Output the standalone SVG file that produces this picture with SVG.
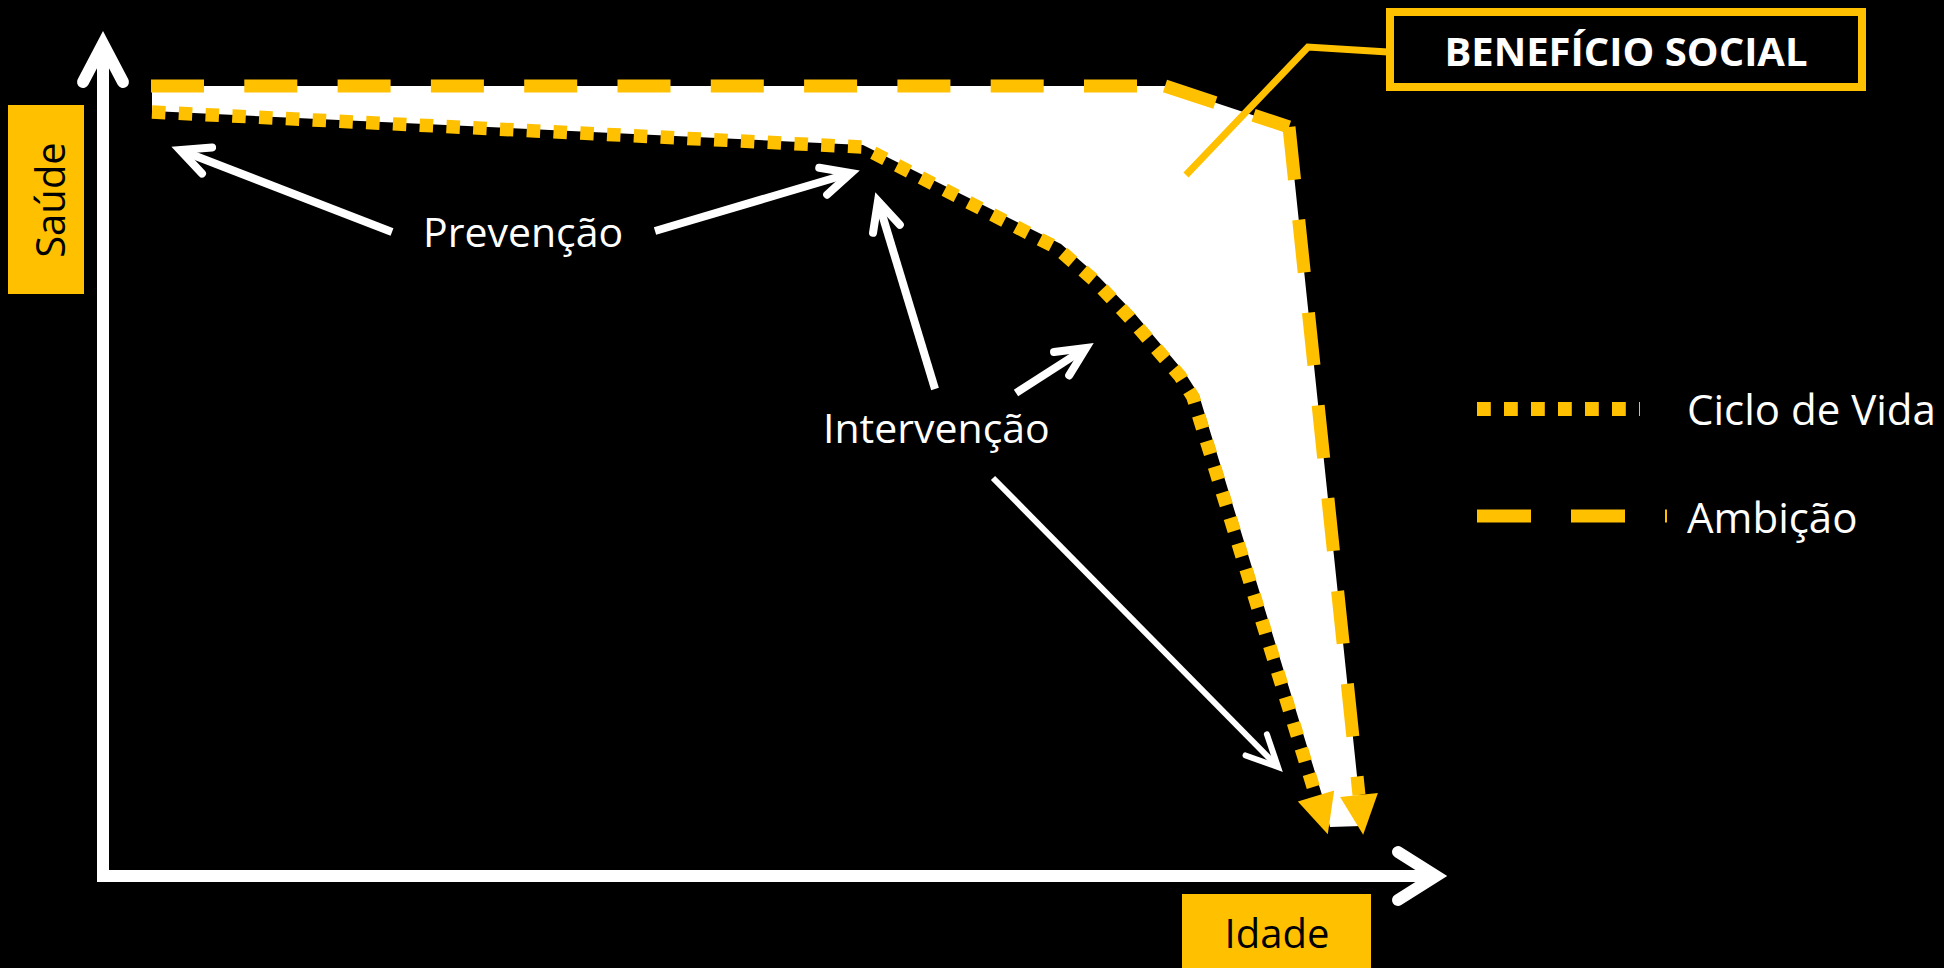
<svg xmlns="http://www.w3.org/2000/svg" width="1944" height="968" viewBox="0 0 1944 968">
<defs>
<style>
.lbl{font-family:"Open Sans","Liberation Sans",sans-serif;font-size:41px;fill:#fff}
.leg{font-family:"Open Sans","Liberation Sans",sans-serif;font-size:42px;fill:#fff}
.axlbl{font-family:"Open Sans","Liberation Sans",sans-serif;font-size:40px;fill:#000}
.box{fill:#FFC000}
.ann{stroke:#fff;stroke-width:8;fill:none}
.annThin{stroke:#fff;stroke-width:6;fill:none}
.dot{stroke:#FFC000;stroke-width:13.5;stroke-dasharray:13.5 13.3;fill:none}
.dash{stroke:#FFC000;stroke-width:13;stroke-dasharray:53 40.3;fill:none}
.axis{stroke:#fff;stroke-width:12;fill:none;stroke-linejoin:miter}
.axhead{stroke:#fff;stroke-width:12;fill:none;stroke-linecap:round;stroke-linejoin:miter}
</style>
<marker id="chev" markerUnits="userSpaceOnUse" orient="auto" overflow="visible" refX="0" refY="0" markerWidth="1" markerHeight="1">
<path d="M-29,-14 L0,0 L-29,14" fill="none" stroke="#fff" stroke-width="8" stroke-linecap="round" stroke-linejoin="miter"/>
</marker>
<marker id="chevThin" markerUnits="userSpaceOnUse" orient="auto" overflow="visible" refX="0" refY="0" markerWidth="1" markerHeight="1">
<path d="M-31,-15 L0,0 L-31,15" fill="none" stroke="#fff" stroke-width="6" stroke-linecap="round" stroke-linejoin="miter"/>
</marker>
<marker id="tri" markerUnits="userSpaceOnUse" orient="auto" overflow="visible" refX="0" refY="0" markerWidth="1" markerHeight="1">
<path d="M0,-19 L40,0 L0,19 Z" fill="#FFC000"/>
</marker>
</defs>
<rect x="0" y="0" width="1944" height="968" fill="#000"/>

<g id="benefit-area">
<polygon points="152,86 1165,86 1289,127 1359,795 1361,826 1330,827 1322,795 1206,418 1199,395 1185,373 1135,314 1099,277 1061,244 863,145 152,111" fill="#fff"/>
</g>

<g id="ciclo-de-vida-curve">
<path class="dot" d="M152,112 L862,147 L1057,248 L1095,281 L1130,318 L1180,376 L1193,397 L1200,420 L1316,796" marker-end="url(#tri)"/>
</g>

<g id="ambicao-curve">
<path class="dash" d="M151,86 L1165,86"/>
<path class="dash" d="M1165,86 L1289,127"/>
<path class="dash" d="M1289,127 L1359,795" marker-end="url(#tri)"/>
</g>

<g id="axes">
<polyline class="axis" points="103,44 103,876 1436,876"/>
<polyline class="axhead" points="83,82 103,44 123,82"/>
<polyline class="axhead" points="1398,852 1436,876 1398,900"/>
</g>

<g id="saude-label">
<rect class="box" x="8" y="105" width="76" height="189"/>
<text class="axlbl" transform="translate(65,200) rotate(-90)" text-anchor="middle">Saúde</text>
</g>

<g id="idade-label">
<rect class="box" x="1182" y="894" width="189" height="74"/>
<text class="axlbl" x="1277" y="948" text-anchor="middle">Idade</text>
</g>

<g id="beneficio-social">
<rect x="1390" y="12" width="472" height="75" fill="#000" stroke="#FFC000" stroke-width="8"/>
<text x="1626" y="66" text-anchor="middle" style="font-family:'Open Sans','Liberation Sans',sans-serif;font-size:40px;font-weight:bold;fill:#fff">BENEFÍCIO SOCIAL</text>
</g>

<g id="prevencao-label">
<text class="lbl" x="423" y="247">Prevenção</text>
</g>

<g id="intervencao-label">
<text class="lbl" x="823" y="443">Intervenção</text>
</g>

<g id="legend">
<path class="dot" d="M1477,409 L1640,409" style="stroke-dasharray:13.8 13.2;stroke-width:14"/>
<text class="leg" x="1687" y="425">Ciclo de Vida</text>
<path class="dash" d="M1477,516 L1667,516" style="stroke-dasharray:54 40"/>
<text class="leg" x="1687" y="533">Ambição</text>
</g>

<g id="connectors">
<polyline points="1388,52 1308,47 1186,175" fill="none" stroke="#FFC000" stroke-width="7" stroke-linejoin="miter"/>
<line class="ann" x1="392" y1="232" x2="180" y2="150" marker-end="url(#chev)"/>
<line class="ann" x1="655" y1="231" x2="851" y2="173" marker-end="url(#chev)"/>
<line class="ann" x1="935" y1="389" x2="878" y2="201" marker-end="url(#chev)"/>
<line class="ann" x1="1016" y1="393" x2="1086" y2="348" marker-end="url(#chev)"/>
<line class="annThin" x1="993" y1="478" x2="1278" y2="767" marker-end="url(#chevThin)"/>
</g>
</svg>
